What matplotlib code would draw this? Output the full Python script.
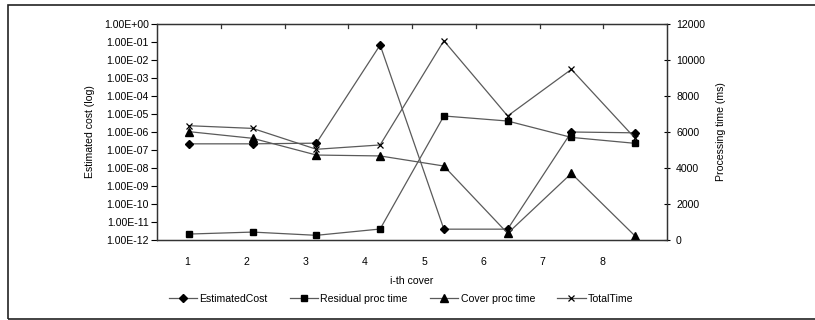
import matplotlib

matplotlib.use("Agg")
import matplotlib.pyplot as plt  # noqa: E402
from matplotlib.patches import Rectangle  # noqa: E402

covers = ["1", "2", "3", "4", "5", "6", "7", "8"]
estimated_cost = [2.2e-7, 2.2e-7, 2.4e-7, 6.8e-2, 4e-12, 4e-12, 1.0e-6, 9e-7]
residual_time = [330, 440, 260, 610, 6890, 6610, 5700, 5370]
cover_time = [6020, 5650, 4720, 4670, 4110, 370, 3700, 220]
total_time = [6350, 6200, 5040, 5280, 11070, 6890, 9480, 5650]
left_ticks = [10.0 ** -k for k in range(0, 13)]
left_labels = [f"1.00E{'+' if k == 0 else '-'}{k:02d}" for k in range(0, 13)]
right_ticks = [0, 2000, 4000, 6000, 8000, 10000, 12000]

LINE = "#5a5a5a"
INK = "#000000"
FS = 7.6

plt.rcParams.update({"font.family": ["Liberation Sans", "DejaVu Sans"], "font.size": FS})

fig = plt.figure(figsize=(8.15, 3.2), dpi=100)
fig.patches.append(Rectangle((8 / 815, 1 / 320), 1.0, 314 / 320, transform=fig.transFigure,
                             fill=False, edgecolor="#222222", lw=1.2))

ax = fig.add_axes([157 / 815, 80 / 320, 510 / 815, 216 / 320])
ax2 = ax.twinx()
x = list(range(len(covers)))

common = dict(color=LINE, lw=0.9, markerfacecolor=INK, markeredgecolor=INK)
h1, = ax.plot(x, estimated_cost, marker="D", ms=4, label="EstimatedCost", **common)
h2, = ax2.plot(x, residual_time, marker="s", ms=5, label="Residual proc time", **common)
h3, = ax2.plot(x, cover_time, marker="^", ms=5.5, label="Cover proc time", **common)
h4, = ax2.plot(x, total_time, marker="x", ms=5, mew=0.9, label="TotalTime", **common)

ax.set_yscale("log")
ax.set_ylim(1e-12, 1.0)
ax.set_yticks(left_ticks)
ax.set_yticklabels(left_labels)
ax.minorticks_off()
ax.set_xlim(-0.5, len(covers) - 0.5)
# category labels sit slightly left of the markers, as in the original export
ax.set_xticks([-0.03 + 0.93 * i for i in x])
ax.set_xticklabels(covers)
ax.tick_params(axis="x", length=0, pad=12)
ax.tick_params(axis="y", direction="out", length=4, width=0.8, pad=2)
ax2.set_ylim(0, 12000)
ax2.set_yticks(right_ticks)
ax2.tick_params(axis="y", direction="inout", length=5, width=0.8, pad=4)
for a in (ax, ax2):
    for s in a.spines.values():
        s.set_color("#333333")
        s.set_linewidth(0.9)

# category separators on the top edge
for b in [i + 0.5 for i in x[:-1]]:
    ax.plot([b, b], [1.0, 10 ** -0.22], color="#333333", lw=0.9, clip_on=False)

ax.set_ylabel("Estimated cost (log)", labelpad=6)
ax2.set_ylabel("Processing time (ms)", labelpad=8)
ax.set_xlabel("i-th cover", labelpad=7)

fig.legend(handles=[h1, h2, h3, h4], loc="center", bbox_to_anchor=(401 / 815, 1 - 299 / 320),
           ncol=4, frameon=False, handlelength=2.7, columnspacing=2.1, handletextpad=0.2,
           fontsize=FS)

fig.savefig("out.png", dpi=100, facecolor="white")
